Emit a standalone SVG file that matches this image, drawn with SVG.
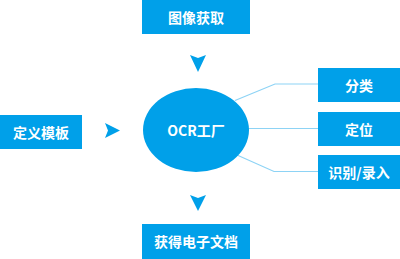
<svg xmlns="http://www.w3.org/2000/svg" width="400" height="259" viewBox="0 0 400 259">
<style>
.box{fill:#00A0E9}
.lbl{fill:#fff;font-family:"Noto Sans CJK SC","Noto Sans",sans-serif;font-weight:bold;font-size:14px;text-anchor:middle;dominant-baseline:central}
.ln{fill:none;stroke:#8DD3F5;stroke-width:1.2}
.arr{fill:#00A0E9}
</style>
<rect width="400" height="259" fill="#fff"/>
<g id="connectors">
<polyline class="ln" points="235,100.5 275,84 318,84"/>
<polyline class="ln" points="248,128.5 318,128.5"/>
<polyline class="ln" points="237,155 274,171.5 318,171.5"/>
<polygon class="arr" points="190,55 198,58 206,55 198,72"/>
<polygon class="arr" points="105,123 108,130.5 105,138 120,130.5"/>
<polygon class="arr" points="190,195 198,198 206,195 198,211"/>
</g>
<g id="n-capture"><rect class="box" x="142" y="0" width="108" height="34"/><text class="lbl" x="196" y="17">图像获取</text></g>
<g id="n-template"><rect class="box" x="0" y="115" width="82" height="34"/><text class="lbl" x="41" y="132">定义模板</text></g>
<g id="n-ocr"><ellipse class="box" cx="196" cy="130" rx="53" ry="42"/><text class="lbl" x="196" y="130">OCR工厂</text></g>
<g id="n-classify"><rect class="box" x="318" y="68" width="82" height="34"/><text class="lbl" x="359" y="85">分类</text></g>
<g id="n-locate"><rect class="box" x="318" y="112" width="82" height="34"/><text class="lbl" x="359" y="129">定位</text></g>
<g id="n-recognize"><rect class="box" x="318" y="155" width="82" height="34"/><text class="lbl" x="359" y="172">识别/录入</text></g>
<g id="n-output"><rect class="box" x="142" y="224" width="108" height="35"/><text class="lbl" x="196" y="241">获得电子文档</text></g>
</svg>
